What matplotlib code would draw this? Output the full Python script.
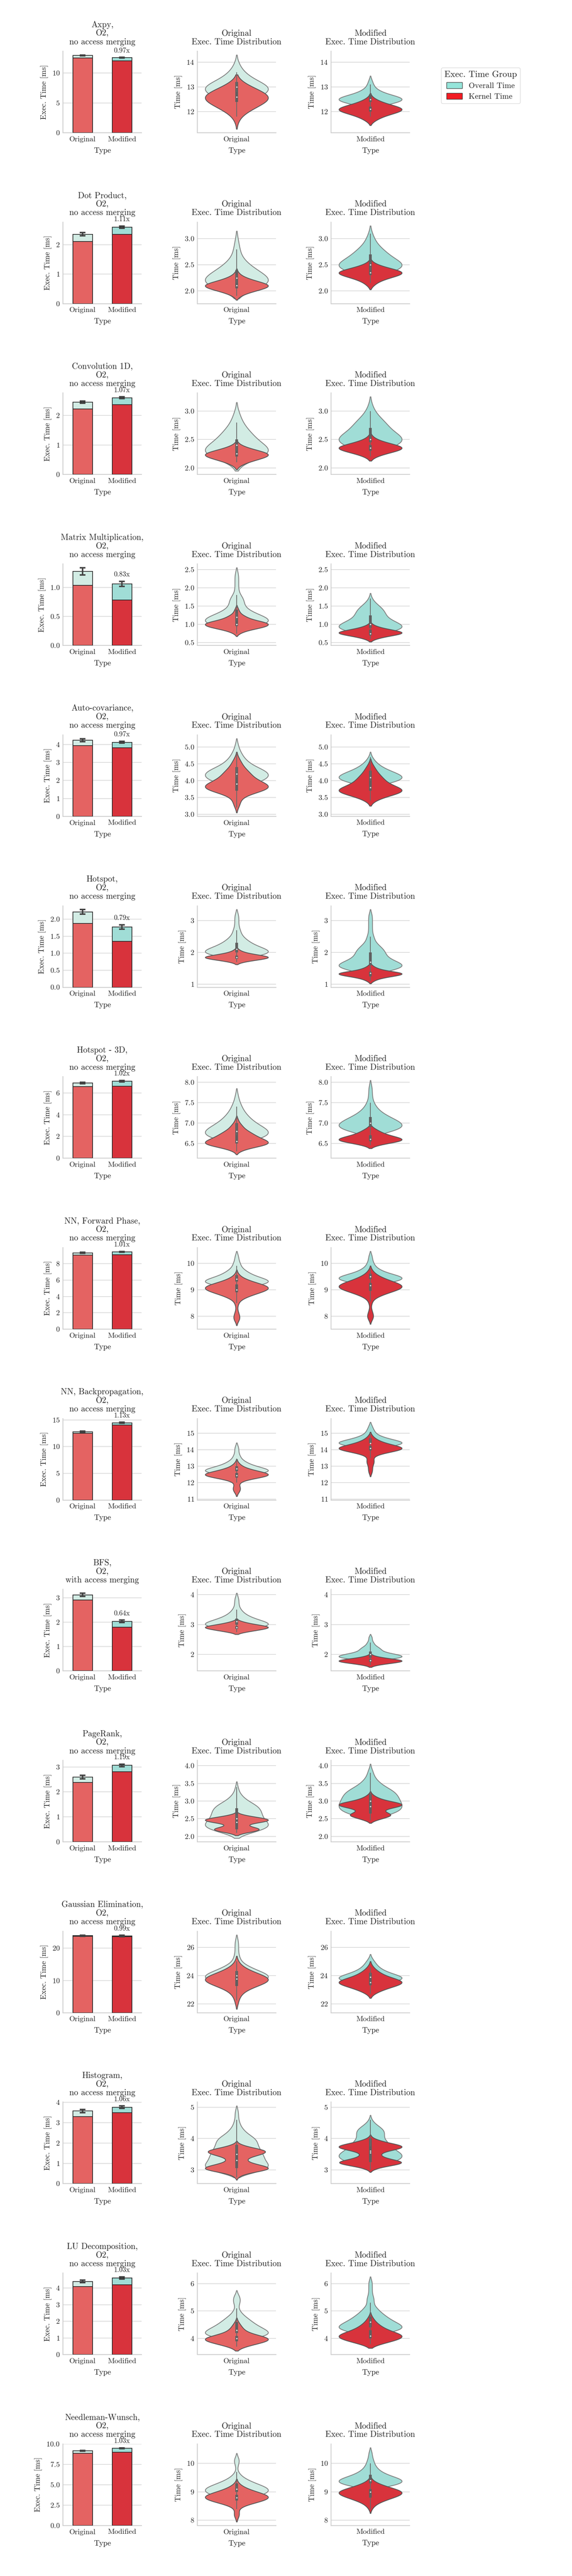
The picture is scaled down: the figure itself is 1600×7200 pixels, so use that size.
import numpy as np
import matplotlib
matplotlib.use("Agg")
import matplotlib.pyplot as plt
from matplotlib.patches import Patch

# benchmark names shown in the bar titles
benchmarks = ["Axpy", "Dot Product", "Convolution 1D", "Matrix Multiplication",
              "Auto-covariance", "Hotspot", "Hotspot - 3D", "NN, Forward Phase",
              "NN, Backpropagation", "BFS", "PageRank", "Gaussian Elimination",
              "Histogram", "LU Decomposition", "Needleman-Wunsch"]
merging = ["no access merging"] * 9 + ["with access merging"] + ["no access merging"] * 5
speedup_labels = ["0.97x", "1.11x", "1.07x", "0.83x", "0.97x", "0.79x", "1.02x", "1.01x",
                  "1.13x", "0.64x", "1.19x", "0.99x", "1.06x", "1.03x", "1.03x"]
types = ["Original", "Modified"]

# mean exec. times [ms]
orig_overall = [12.98, 2.36, 2.45, 1.276, 4.24, 2.22, 6.92, 9.35, 12.8, 3.13, 2.59, 23.88, 3.57, 4.40, 9.17]
orig_kernel = [12.56, 2.11, 2.22, 1.035, 3.94, 1.88, 6.58, 9.06, 12.5, 2.92, 2.38, 23.67, 3.29, 4.09, 8.85]
mod_overall = [12.60, 2.60, 2.60, 1.062, 4.12, 1.77, 7.09, 9.46, 14.46, 2.04, 3.06, 23.80, 3.76, 4.60, 9.48]
mod_kernel = [12.07, 2.35, 2.37, 0.783, 3.81, 1.35, 6.64, 9.11, 14.05, 1.80, 2.81, 23.60, 3.49, 4.20, 9.01]
orig_err = [0.06, 0.05, 0.04, 0.063, 0.08, 0.065, 0.06, 0.06, 0.12, 0.065, 0.07, 0.2, 0.08, 0.07, 0.05]
mod_err = [0.05, 0.04, 0.03, 0.045, 0.05, 0.065, 0.06, 0.06, 0.10, 0.05, 0.05, 0.2, 0.06, 0.07, 0.06]

# run-time histograms (time [ms], number of runs)
orig_overall_hist = [
    [(12.2, 2), (12.4, 6), (12.6, 12), (12.8, 17), (13.0, 19), (13.2, 12), (13.4, 7), (13.6, 4), (13.8, 2), (14.0, 1)],
    [(2.0, 8), (2.1, 16), (2.2, 20), (2.3, 16), (2.4, 11), (2.5, 7), (2.6, 4), (2.7, 2), (2.8, 2), (2.9, 1), (3.0, 1)],
    [(2.1, 4), (2.2, 14), (2.3, 20), (2.4, 14), (2.5, 10), (2.6, 8), (2.7, 5), (2.8, 3), (2.9, 2), (3.0, 1)],
    [(0.9, 6), (1.0, 16), (1.1, 20), (1.2, 16), (1.3, 10), (1.4, 6), (1.5, 4), (1.6, 4), (1.7, 4), (1.8, 2),
     (1.9, 1), (2.0, 1), (2.1, 1), (2.2, 1), (2.3, 1), (2.4, 1)],
    [(3.9, 10), (4.0, 16), (4.1, 19), (4.2, 20), (4.3, 17), (4.4, 12), (4.5, 8), (4.6, 6), (4.7, 4), (4.8, 3),
     (4.9, 2), (5.0, 1), (5.1, 1)],
    [(1.9, 12), (2.0, 20), (2.1, 15), (2.2, 10), (2.3, 7), (2.4, 5), (2.5, 3), (2.6, 2), (2.7, 2), (2.8, 1),
     (2.9, 1), (3.0, 1), (3.1, 1), (3.2, 1)],
    [(6.6, 14), (6.7, 19), (6.8, 20), (6.9, 15), (7.0, 11), (7.1, 8), (7.2, 6), (7.3, 4), (7.4, 3), (7.5, 2),
     (7.6, 1), (7.7, 1)],
    [(9.1, 6), (9.2, 14), (9.3, 20), (9.4, 15), (9.5, 10), (9.6, 7), (9.7, 5), (9.8, 3), (9.9, 2), (10.0, 2),
     (10.1, 1), (10.2, 1), (10.3, 1)],
    [(12.55, 12), (12.7, 20), (12.85, 15), (13.0, 9), (13.15, 6), (13.3, 4), (13.45, 2), (13.6, 2), (13.75, 1),
     (13.9, 1), (14.05, 1), (14.2, 1)],
    [(2.9, 12), (3.0, 20), (3.1, 13), (3.2, 8), (3.3, 5), (3.4, 3), (3.5, 2), (3.6, 1), (3.7, 1), (3.8, 1), (3.9, 1)],
    [(2.1, 8), (2.2, 16), (2.3, 20), (2.4, 17), (2.5, 15), (2.6, 14), (2.7, 14), (2.8, 13), (2.9, 11), (3.0, 6),
     (3.1, 4), (3.2, 2), (3.3, 1), (3.4, 1)],
    [(23.25, 4), (23.5, 12), (23.75, 19), (24.0, 20), (24.25, 14), (24.5, 9), (24.75, 5), (25.0, 2), (25.25, 2),
     (25.5, 1), (25.75, 1), (26.0, 1), (26.25, 1), (26.5, 1)],
    [(2.9, 10), (3.0, 16), (3.1, 20), (3.2, 18), (3.3, 16), (3.4, 16), (3.5, 15), (3.6, 14), (3.7, 13), (3.8, 12),
     (3.9, 12), (4.0, 11), (4.1, 8), (4.2, 5), (4.3, 4), (4.4, 2), (4.5, 2), (4.6, 1), (4.7, 1), (4.8, 1),
     (4.9, 1)],
    [(4.0, 10), (4.1, 17), (4.2, 20), (4.3, 17), (4.4, 14), (4.5, 11), (4.6, 9), (4.7, 7), (4.8, 5), (4.9, 3),
     (5.0, 2), (5.1, 1), (5.2, 1), (5.3, 2), (5.4, 2), (5.5, 2), (5.6, 1)],
    [(8.8, 10), (8.9, 16), (9.0, 19), (9.1, 20), (9.2, 16), (9.3, 11), (9.4, 7), (9.5, 4), (9.6, 2), (9.7, 1),
     (9.9, 1), (10.0, 1), (10.1, 2), (10.2, 1)],
]
orig_kernel_hist = [
    [(11.6, 1), (11.8, 2), (12.0, 6), (12.2, 11), (12.4, 17), (12.6, 20), (12.8, 15), (13.0, 8), (13.2, 3)],
    [(1.9, 2), (1.95, 5), (2.0, 10), (2.05, 16), (2.1, 20), (2.15, 15), (2.2, 9), (2.25, 5), (2.3, 2), (2.35, 1)],
    [(2.05, 2), (2.1, 6), (2.15, 11), (2.2, 18), (2.25, 20), (2.3, 12), (2.35, 6), (2.4, 2)],
    [(0.75, 2), (0.8, 4), (0.85, 8), (0.9, 14), (0.95, 19), (1.0, 20), (1.05, 19), (1.1, 12), (1.15, 8), (1.2, 6),
     (1.25, 4), (1.3, 2), (1.35, 2), (1.4, 1), (1.45, 1)],
    [(3.2, 1), (3.3, 2), (3.4, 2), (3.5, 3), (3.6, 7), (3.7, 15), (3.8, 20), (3.9, 17), (4.0, 12), (4.1, 9),
     (4.2, 8), (4.3, 6), (4.4, 4), (4.5, 3), (4.6, 2), (4.7, 1)],
    [(1.7, 3), (1.75, 8), (1.8, 15), (1.85, 20), (1.9, 14), (1.95, 8), (2.0, 4), (2.05, 2), (2.1, 1)],
    [(6.3, 2), (6.35, 5), (6.4, 10), (6.45, 17), (6.5, 20), (6.55, 19), (6.6, 16), (6.65, 13), (6.7, 11),
     (6.75, 9), (6.8, 7), (6.85, 5), (6.9, 4), (6.95, 3), (7.0, 2), (7.05, 1), (7.1, 1)],
    [(7.8, 1), (7.9, 2), (8.0, 2), (8.1, 1), (8.2, 1), (8.4, 1), (8.5, 1), (8.6, 2), (8.7, 5), (8.8, 9), (8.9, 14),
     (9.0, 19), (9.1, 20), (9.2, 15), (9.3, 9), (9.4, 5), (9.5, 2), (9.6, 1)],
    [(11.4, 1), (11.55, 2), (11.7, 2), (11.85, 1), (12.0, 1), (12.15, 3), (12.3, 10), (12.45, 20), (12.6, 15),
     (12.75, 8), (12.9, 4), (13.05, 2), (13.2, 1)],
    [(2.75, 5), (2.8, 10), (2.85, 15), (2.9, 20), (2.95, 17), (3.0, 10), (3.05, 6), (3.1, 3)],
    [(2.1, 4), (2.15, 11), (2.2, 15), (2.25, 10), (2.3, 4), (2.35, 5), (2.4, 13), (2.45, 20), (2.5, 17),
     (2.55, 9), (2.6, 4)],
    [(22.0, 1), (22.25, 1), (22.5, 2), (22.75, 3), (23.0, 6), (23.25, 11), (23.5, 17), (23.75, 20), (24.0, 15),
     (24.25, 9), (24.5, 5), (24.75, 2), (25.0, 1)],
    [(2.75, 1), (2.8, 2), (2.85, 4), (2.9, 8), (2.95, 13), (3.0, 18), (3.05, 20), (3.1, 18), (3.15, 14), (3.2, 10),
     (3.25, 7), (3.3, 6), (3.35, 6), (3.4, 8), (3.45, 11), (3.5, 15), (3.55, 17), (3.6, 18), (3.65, 15),
     (3.7, 10), (3.75, 6), (3.8, 3), (3.85, 1)],
    [(3.7, 4), (3.8, 10), (3.9, 17), (4.0, 20), (4.1, 12), (4.2, 6), (4.3, 4), (4.4, 3), (4.5, 2), (4.6, 1)],
    [(8.1, 1), (8.2, 2), (8.3, 1), (8.4, 1), (8.5, 3), (8.6, 9), (8.7, 16), (8.8, 20), (8.9, 17), (9.0, 11),
     (9.1, 6), (9.2, 3), (9.3, 1)],
]
mod_overall_hist = [
    [(12.2, 4), (12.3, 10), (12.4, 16), (12.5, 20), (12.6, 16), (12.7, 10), (12.8, 6), (12.9, 4), (13.0, 2),
     (13.1, 2), (13.2, 1), (13.3, 1)],
    [(2.3, 5), (2.4, 14), (2.5, 20), (2.6, 11), (2.7, 9), (2.8, 6), (2.9, 3), (3.0, 2), (3.1, 1)],
    [(2.3, 5), (2.4, 14), (2.5, 20), (2.6, 12), (2.7, 9), (2.8, 8), (2.9, 4), (3.0, 2), (3.1, 1)],
    [(0.8, 12), (0.9, 20), (1.0, 17), (1.1, 11), (1.2, 8), (1.3, 8), (1.4, 7), (1.5, 5), (1.6, 2), (1.7, 1)],
    [(3.9, 8), (4.0, 16), (4.1, 20), (4.2, 15), (4.3, 10), (4.4, 6), (4.5, 4), (4.6, 2), (4.7, 1)],
    [(1.4, 8), (1.5, 16), (1.6, 20), (1.7, 14), (1.8, 10), (1.9, 8), (2.0, 8), (2.1, 7), (2.2, 5), (2.3, 3),
     (2.4, 2), (2.5, 2), (2.6, 1), (2.7, 1), (2.8, 1), (2.9, 1), (3.0, 1), (3.1, 1), (3.2, 1)],
    [(6.8, 14), (6.9, 20), (7.0, 18), (7.1, 13), (7.2, 8), (7.3, 5), (7.4, 3), (7.5, 2), (7.6, 1), (7.7, 1),
     (7.8, 1), (7.9, 1)],
    [(9.2, 5), (9.3, 12), (9.4, 20), (9.5, 17), (9.6, 10), (9.7, 6), (9.8, 4), (9.9, 2), (10.0, 2), (10.1, 1),
     (10.2, 1), (10.3, 1)],
    [(14.1, 4), (14.25, 10), (14.4, 20), (14.55, 12), (14.7, 7), (14.85, 4), (15.0, 2), (15.15, 2), (15.3, 1),
     (15.45, 1)],
    [(1.85, 14), (1.9, 18), (1.95, 20), (2.0, 15), (2.05, 10), (2.1, 7), (2.15, 6), (2.2, 6), (2.25, 4), (2.3, 3),
     (2.35, 2), (2.4, 2), (2.45, 1), (2.5, 1), (2.55, 1), (2.6, 1)],
    [(2.6, 12), (2.7, 17), (2.8, 20), (2.9, 19), (3.0, 18), (3.1, 17), (3.2, 16), (3.3, 14), (3.4, 9), (3.5, 6),
     (3.6, 4), (3.7, 2), (3.8, 2), (3.9, 1)],
    [(23.4, 6), (23.6, 13), (23.8, 20), (24.0, 14), (24.2, 9), (24.4, 6), (24.6, 4), (24.8, 3), (25.0, 2), (25.2, 1)],
    [(3.2, 12), (3.3, 17), (3.4, 20), (3.5, 20), (3.6, 16), (3.7, 13), (3.8, 12), (3.9, 10), (4.0, 8), (4.1, 8),
     (4.2, 9), (4.3, 8), (4.4, 5), (4.5, 2), (4.6, 1)],
    [(4.2, 10), (4.3, 16), (4.4, 20), (4.5, 17), (4.6, 14), (4.7, 11), (4.8, 9), (4.9, 7), (5.0, 5), (5.1, 4),
     (5.2, 2), (5.3, 2), (5.4, 2), (5.5, 2), (5.6, 1), (5.7, 1), (5.8, 1), (5.9, 1), (6.0, 1), (6.1, 1)],
    [(9.2, 12), (9.3, 18), (9.4, 20), (9.5, 14), (9.6, 9), (9.7, 6), (9.8, 4), (9.9, 3), (10.0, 2), (10.1, 2),
     (10.2, 1), (10.3, 1), (10.4, 1)],
]
mod_kernel_hist = [
    [(11.6, 2), (11.7, 4), (11.8, 7), (11.9, 11), (12.0, 17), (12.1, 20), (12.2, 16), (12.3, 10), (12.4, 6),
     (12.5, 3), (12.6, 1)],
    [(2.1, 2), (2.15, 3), (2.2, 6), (2.25, 10), (2.3, 16), (2.35, 20), (2.4, 15), (2.45, 8), (2.5, 4), (2.55, 1)],
    [(2.2, 3), (2.25, 7), (2.3, 14), (2.35, 20), (2.4, 14), (2.45, 7), (2.5, 3), (2.55, 1)],
    [(0.6, 3), (0.65, 6), (0.7, 12), (0.75, 19), (0.8, 18), (0.85, 11), (0.9, 6), (0.95, 3), (1.0, 1)],
    [(3.4, 2), (3.5, 6), (3.6, 12), (3.7, 20), (3.8, 13), (3.9, 9), (4.0, 7), (4.1, 6), (4.2, 4), (4.3, 3),
     (4.4, 2), (4.5, 1)],
    [(1.1, 2), (1.15, 3), (1.2, 6), (1.25, 11), (1.3, 18), (1.35, 20), (1.4, 12), (1.45, 6), (1.5, 4), (1.55, 2),
     (1.6, 1)],
    [(6.45, 4), (6.5, 9), (6.55, 18), (6.6, 20), (6.65, 15), (6.7, 10), (6.75, 7), (6.8, 5), (6.85, 3), (6.9, 1)],
    [(7.85, 1), (7.95, 2), (8.05, 2), (8.15, 1), (8.25, 1), (8.45, 1), (8.55, 1), (8.65, 2), (8.75, 5), (8.85, 9),
     (8.95, 14), (9.05, 19), (9.15, 20), (9.25, 16), (9.35, 11), (9.45, 7), (9.55, 4), (9.65, 2), (9.75, 1)],
    [(12.6, 1), (12.75, 1), (12.9, 1), (13.05, 1), (13.2, 2), (13.35, 2), (13.5, 1), (13.65, 2), (13.8, 6),
     (13.95, 14), (14.1, 20), (14.25, 12), (14.4, 7), (14.55, 4), (14.7, 2), (14.85, 1)],
    [(1.65, 3), (1.7, 9), (1.75, 16), (1.8, 20), (1.85, 11), (1.9, 5), (1.95, 2)],
    [(2.45, 3), (2.5, 6), (2.55, 10), (2.6, 13), (2.65, 11), (2.7, 7), (2.75, 7), (2.8, 11), (2.85, 17),
     (2.9, 20), (2.95, 16), (3.0, 10), (3.05, 6), (3.1, 4), (3.15, 2), (3.2, 1)],
    [(22.7, 2), (22.9, 5), (23.1, 9), (23.3, 14), (23.5, 20), (23.7, 15), (23.9, 9), (24.1, 6), (24.3, 4),
     (24.5, 2), (24.7, 1)],
    [(3.0, 2), (3.05, 4), (3.1, 8), (3.15, 14), (3.2, 19), (3.25, 20), (3.3, 16), (3.35, 11), (3.4, 8), (3.45, 6),
     (3.5, 6), (3.55, 7), (3.6, 10), (3.65, 15), (3.7, 19), (3.75, 20), (3.8, 17), (3.85, 12), (3.9, 8),
     (3.95, 5), (4.0, 2), (4.05, 1)],
    [(3.8, 6), (3.9, 12), (4.0, 18), (4.1, 20), (4.2, 15), (4.3, 10), (4.4, 7), (4.5, 5), (4.6, 3), (4.7, 2),
     (4.8, 1)],
    [(8.4, 1), (8.5, 2), (8.6, 4), (8.7, 8), (8.8, 13), (8.9, 18), (9.0, 20), (9.1, 14), (9.2, 8), (9.3, 4),
     (9.4, 1)],
]

# colours
overall_cols = ["#d2ece4", "#a0ddd6"]
kernel_cols = ["#e46362", "#d8333c"]
legend_cols = ["#96e5da", "#f21c24"]
text_col = "#262626"

plt.rcParams["font.family"] = "cmr10"
plt.rcParams["mathtext.fontset"] = "cm"
plt.rcParams["axes.formatter.use_mathtext"] = True
plt.rcParams["text.color"] = text_col
plt.rcParams["axes.labelcolor"] = text_col
plt.rcParams["xtick.color"] = text_col
plt.rcParams["ytick.color"] = text_col
plt.rcParams["xtick.labelsize"] = 15
plt.rcParams["ytick.labelsize"] = 15
plt.rcParams["axes.labelsize"] = 15.5


def kde_stats(hist, cut=1.5, n=300):
    # gaussian kde of the binned run times, bandwidth = bin width
    t = np.array([h[0] for h in hist], dtype=float)
    w = np.array([h[1] for h in hist], dtype=float)
    bw = np.diff(t).min()
    coords = np.linspace(t.min() - cut * bw, t.max() + cut * bw, n)
    vals = (w[None, :] * np.exp(-0.5 * ((coords[:, None] - t[None, :]) / bw) ** 2)).sum(axis=1)
    runs = np.repeat(t, w.astype(int))
    return dict(coords=coords, vals=vals, mean=runs.mean(), median=np.median(runs),
                min=runs.min(), max=runs.max())


def inner_box(ax, hist):
    x = np.repeat([h[0] for h in hist], [h[1] for h in hist])
    q1, med, q3 = np.percentile(x, [25, 50, 75])
    iqr = q3 - q1
    lo = x[x >= q1 - 1.5 * iqr].min()
    hi = x[x <= q3 + 1.5 * iqr].max()
    ax.vlines(0, lo, hi, color="#6a6a6a", lw=1.6, zorder=6)
    ax.vlines(0, q1, q3, color="#5f5f5f", lw=5.5, zorder=6)
    ax.scatter([0], [med], s=7, color="white", zorder=7, linewidths=0)


def style_axes(ax):
    for s in ["top", "right"]:
        ax.spines[s].set_visible(False)
    for s in ["left", "bottom"]:
        ax.spines[s].set_color("#cccccc")
        ax.spines[s].set_linewidth(1.6)
    ax.set_axisbelow(True)
    ax.yaxis.grid(True, color="#d0d0d0", lw=1.1)
    ax.tick_params(length=0)
    ax.tick_params(axis="x", pad=7)
    ax.tick_params(axis="y", pad=6)


def violin_panel(ax, overall, kernel, t):
    for hist, fc, ec, z in [(overall, overall_cols[t], "#808080", 2),
                            (kernel, kernel_cols[t], "#555555", 3)]:
        parts = ax.violin([kde_stats(hist)], positions=[0], widths=0.8,
                          showmeans=False, showextrema=False, showmedians=False)
        body = parts["bodies"][0]
        body.set_facecolor(fc)
        body.set_edgecolor(ec)
        body.set_alpha(1)
        body.set_linewidth(1.6)
        body.set_zorder(z)
    inner_box(ax, overall)
    inner_box(ax, kernel)
    ax.set_xlim(-0.5, 0.5)
    ax.set_xticks([0])
    ax.set_xticklabels([types[t]])
    ax.set_xlabel("Type", labelpad=9)
    ax.set_ylabel("Time [ms]", labelpad=8)
    ax.set_title(types[t] + "\nExec. Time Distribution", fontsize=17, pad=14, linespacing=1.1)
    style_axes(ax)


W, H = 1600, 7200
fig = plt.figure(figsize=(16, 72), dpi=100)
ax_w, ax_h = 220, 228
lefts = [176, 552, 926]
pitch = 477.7
first_bottom = 371

for i, name in enumerate(benchmarks):
    bottom = H - (first_bottom + pitch * i)
    rect = lambda l: [l / W, bottom / H, ax_w / W, ax_h / H]
    axb = fig.add_axes(rect(lefts[0]))
    av1 = fig.add_axes(rect(lefts[1]))
    av2 = fig.add_axes(rect(lefts[2]), sharey=av1)

    # stacked bars: overall time behind, kernel time in front
    xs = np.arange(2)
    axb.bar(xs, [orig_overall[i], mod_overall[i]], width=0.5, color=overall_cols,
            edgecolor="#2b2b2b", linewidth=1.4, zorder=2)
    axb.bar(xs, [orig_kernel[i], mod_kernel[i]], width=0.5, color=kernel_cols,
            edgecolor="#2b2b2b", linewidth=1.4, zorder=3)
    axb.errorbar(xs, [orig_overall[i], mod_overall[i]], yerr=[orig_err[i], mod_err[i]],
                 fmt="none", ecolor="#424242", elinewidth=3, capsize=5.5, capthick=3, zorder=4)
    axb.annotate(speedup_labels[i], xy=(1, mod_overall[i] + mod_err[i]), xytext=(0, 7),
                 textcoords="offset points", ha="center", va="bottom", fontsize=14)
    axb.set_xlim(-0.5, 1.5)
    axb.set_xticks(xs)
    axb.set_xticklabels(types)
    axb.set_xlabel("Type", labelpad=9)
    axb.set_ylabel("Exec. Time [ms]", labelpad=8)
    axb.set_title(f"{name},\nO2,\n{merging[i]}", fontsize=17, pad=14, linespacing=1.1)
    style_axes(axb)

    violin_panel(av1, orig_overall_hist[i], orig_kernel_hist[i], 0)
    violin_panel(av2, mod_overall_hist[i], mod_kernel_hist[i], 1)

handles = [Patch(facecolor=legend_cols[0], edgecolor="#333333", label="Overall Time"),
           Patch(facecolor=legend_cols[1], edgecolor="#333333", label="Kernel Time")]
leg = fig.legend(handles=handles, title="Exec. Time Group", loc="upper left",
                 bbox_to_anchor=(1223 / W, 1 - 178 / H), fontsize=16, title_fontsize=18,
                 handlelength=2.0, handleheight=0.75, labelspacing=0.45, frameon=True)
leg.get_frame().set_edgecolor("#cccccc")

fig.savefig("out.png", dpi=100)
